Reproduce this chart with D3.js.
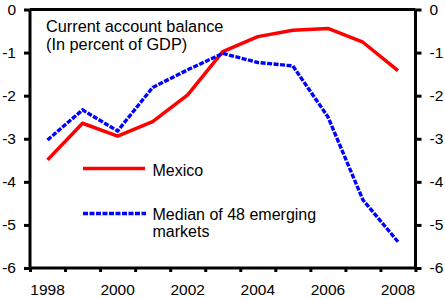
<!DOCTYPE html>
<html>
<head>
<meta charset="utf-8">
<script src="https://cdn.jsdelivr.net/npm/d3@7"></script>
<style>
  html, body { margin: 0; padding: 0; background: #fff; }
  svg { display: block; font-family: "Liberation Sans", Arial, sans-serif; }
</style>
</head>
<body>
<svg id="chart" width="445" height="299"></svg>
<script>
const years = [1998, 1999, 2000, 2001, 2002, 2003, 2004, 2005, 2006, 2007, 2008];
const xTickLabels = [1998, 2000, 2002, 2004, 2006, 2008];
const yTicks = [0, -1, -2, -3, -4, -5, -6];
const mexico = [-3.49, -2.64, -2.94, -2.60, -1.98, -0.98, -0.63, -0.48, -0.44, -0.76, -1.42];
const emerging = [-3.03, -2.33, -2.82, -1.81, -1.40, -1.02, -1.23, -1.31, -2.49, -4.42, -5.39];
const seriesNames = ["Mexico", "Median of 48 emerging", "markets"];
const titleLines = ["Current account balance", "(In percent of GDP)"];

const svg = d3.select("#chart");
const L = 30, R = 415.5, T = 9.5, B = 268;

const x = d3.scaleBand().domain(years).range([L, R]).paddingInner(0).paddingOuter(0);
const y = d3.scaleLinear().domain([-6, 0]).range([B, T]);
const cx = d => x(d) + x.bandwidth() / 2;

// top frame line
svg.append("line").attr("x1", L).attr("x2", R).attr("y1", T).attr("y2", T)
  .attr("stroke", "#000").attr("stroke-width", 3);

// left axis
const leftAxis = svg.append("g").attr("transform", `translate(${L},0)`)
  .call(d3.axisLeft(y).tickValues(yTicks).tickSize(6).tickPadding(8).tickFormat(d3.format("d")));
// right axis
const rightAxis = svg.append("g").attr("transform", `translate(${R},0)`)
  .call(d3.axisRight(y).tickValues(yTicks).tickSize(6).tickPadding(8).tickFormat(d3.format("d")));
// bottom axis: ticks at category boundaries
const boundaries = years.map(d => x(d)).concat([R]);
const bottom = svg.append("g").attr("transform", `translate(0,${B})`)
  .call(d3.axisBottom(d3.scaleLinear().domain([L, R]).range([L, R])).tickValues(boundaries).tickSize(4).tickFormat(""));
svg.append("g").attr("transform", `translate(0,${B})`)
  .call(d3.axisBottom(x).tickValues(xTickLabels).tickSize(0).tickPadding(16))
  .call(g => g.select(".domain").remove());

svg.selectAll(".domain").attr("stroke", "#000").attr("stroke-width", 3);
svg.selectAll(".tick line").attr("stroke", "#000").attr("stroke-width", 3);
svg.selectAll(".tick text").attr("fill", "#000").attr("font-size", "15.5px")
  .attr("font-family", "'Liberation Sans', Arial, sans-serif");
leftAxis.selectAll(".tick text").text(d => String(d).replace("\u2212", "-"));
rightAxis.selectAll(".tick text").text(d => String(d).replace("\u2212", "-"));
leftAxis.select(".domain").attr("d", `M0,${T}V${B}`);
rightAxis.select(".domain").attr("d", `M0,${T}V${B}`);
bottom.select(".domain").attr("d", `M${L},0H${R}`);

// lines
const line = d3.line().x((d, i) => cx(years[i])).y(d => y(d));
svg.append("path").datum(mexico).attr("d", line)
  .attr("fill", "none").attr("stroke", "#ff0000").attr("stroke-width", 3.5).attr("stroke-linejoin", "round");
svg.append("path").datum(emerging).attr("d", line)
  .attr("fill", "none").attr("stroke", "#0000ff").attr("stroke-width", 3.4)
  .attr("stroke-dasharray", "5,1.5");

// title
const title = svg.append("text").attr("font-size", "16.3px").attr("fill", "#000");
title.append("tspan").attr("x", 46).attr("y", 32).text(titleLines[0]);
title.append("tspan").attr("x", 46).attr("y", 50).text(titleLines[1]);

// legend
svg.append("line").attr("x1", 83).attr("x2", 145).attr("y1", 168.5).attr("y2", 168.5)
  .attr("stroke", "#ff0000").attr("stroke-width", 3.5);
svg.append("text").attr("x", 152.5).attr("y", 176).attr("font-size", "16px").text(seriesNames[0]);
svg.append("line").attr("x1", 83).attr("x2", 146).attr("y1", 213.5).attr("y2", 213.5)
  .attr("stroke", "#0000ff").attr("stroke-width", 3.4).attr("stroke-dasharray", "5,1.5");
const lt = svg.append("text").attr("font-size", "16px");
lt.append("tspan").attr("x", 152.5).attr("y", 219.5).text(seriesNames[1]);
lt.append("tspan").attr("x", 152.5).attr("y", 237).text(seriesNames[2]);
</script>
</body>
</html>
